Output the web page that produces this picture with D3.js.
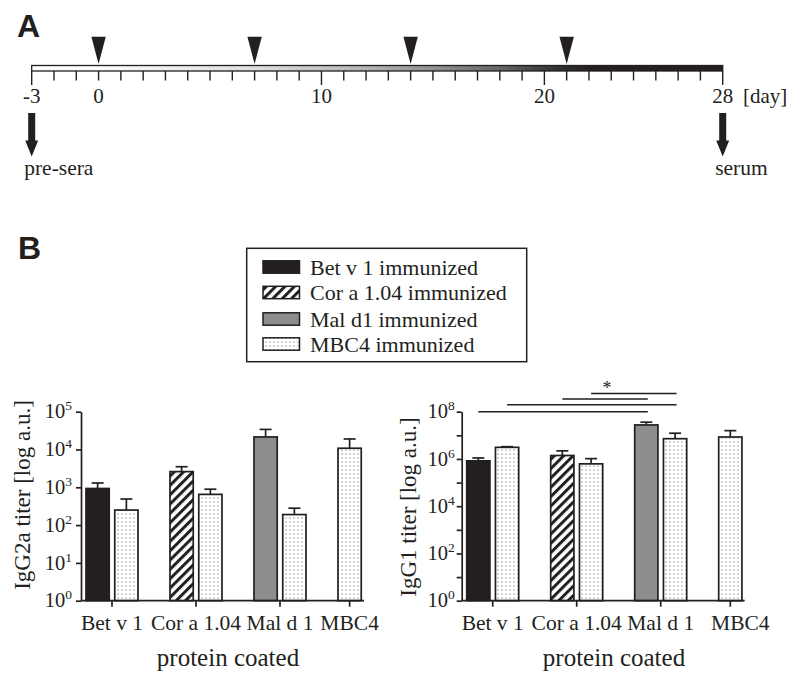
<!DOCTYPE html>
<html><head><meta charset="utf-8">
<script src="https://cdn.jsdelivr.net/npm/d3@7"></script>
<style>
body{margin:0;background:#fff}
svg{display:block}
text{font-family:"Liberation Serif","Times New Roman",serif;fill:#231f20}
.panel{font-family:"Liberation Sans",Arial,sans-serif;font-weight:bold}
</style>
</head><body><svg id="c" width="800" height="685"></svg>
<script>
// ---------- Panel A data ----------
const dayTicks = [-3,-2,-1,0,1,2,3,4,5,6,7,8,9,10,11,12,13,14,15,16,17,18,19,20,21,22,23,24,25,26,27,28];
const dayLabels = [-3, 0, 10, 20, 28];
const majorDays = [-3, 10, 20, 28];
const injectionDays = [0, 7, 14, 21];
const bleedDays = [-3, 28];
const bleedLabels = ["pre-sera", "serum"];

// ---------- Panel B data ----------
const categories = ["Bet v 1", "Cor a 1.04", "Mal d 1", "MBC4"];
const seriesNames = ["Bet v 1 immunized", "Cor a 1.04 immunized", "Mal d1 immunized", "MBC4 immunized"];

// IgG2a titers (mean) and upper error (SEM) per coated protein
const igg2aBetV1 = [930, null, null, null];
const igg2aCorA  = [null, 2600, null, null];
const igg2aMalD1 = [null, null, 21500, null];
const igg2aMBC4  = [250, 650, 190, 10800];
const igg2aBetV1Err = [370, null, null, null];
const igg2aCorAErr  = [null, 900, null, null];
const igg2aMalD1Err = [null, null, 12500, null];
const igg2aMBC4Err  = [240, 240, 90, 8200];

// IgG1 titers (mean) and upper error (SEM)
const igg1BetV1 = [830000, null, null, null];
const igg1CorA  = [null, 1400000, null, null];
const igg1MalD1 = [null, null, 27500000, null];
const igg1MBC4  = [3100000, 620000, 7200000, 8500000];
const igg1BetV1Err = [270000, null, null, null];
const igg1CorAErr  = [null, 800000, null, null];
const igg1MalD1Err = [null, null, 8500000, null];
const igg1MBC4Err  = [200000, 410000, 5100000, 7300000];

const igg2aTicks = [1, 10, 100, 1000, 10000, 100000];
const igg1Ticks = [1, 10, 100, 1000, 10000, 100000, 1000000, 10000000, 100000000];
const igg1LabeledExp = [0, 2, 4, 6, 8];

// significance bars: [category, series index] pairs
const igg1Sig = [
  [["Bet v 1", 0], ["Mal d 1", 2]],
  [["Bet v 1", 3], ["Mal d 1", 3]],
  [["Cor a 1.04", 1], ["Mal d 1", 2]],
  [["Cor a 1.04", 3], ["Mal d 1", 3]]
];

// ---------- styles ----------
const INK = "#231f20";
const fills = [INK, "url(#hatch)", "#8c8d8f", "url(#dots)"];

const svg = d3.select("#c");
svg.append("rect").attr("width",800).attr("height",685).attr("fill","#fff");
const defs = svg.append("defs");

// hatch pattern
const hp = defs.append("pattern").attr("id","hatch").attr("patternUnits","userSpaceOnUse")
  .attr("width",6.6).attr("height",6.6).attr("patternTransform","rotate(45)");
hp.append("rect").attr("width",6.6).attr("height",6.6).attr("fill","#fff");
hp.append("rect").attr("x",0).attr("width",3).attr("height",6.6).attr("fill",INK);
// dot pattern
const dp = defs.append("pattern").attr("id","dots").attr("patternUnits","userSpaceOnUse")
  .attr("width",4).attr("height",4);
dp.append("rect").attr("width",4).attr("height",4).attr("fill","#fff");
dp.append("rect").attr("x",1.5).attr("y",1.5).attr("width",1.1).attr("height",1.1).attr("fill","#6e6e6e");

// ---------- Panel A ----------
svg.append("text").attr("class","panel").attr("x",17).attr("y",36.5).attr("font-size",32).text("A");

const xd = d3.scaleLinear().domain([-3, 28]).range([31.7, 722.7]);
const grad = defs.append("linearGradient").attr("id","tgrad").attr("gradientUnits","userSpaceOnUse")
  .attr("x1", xd(-3)).attr("x2", xd(28)).attr("y1",0).attr("y2",0);
[[-3,"#ffffff"],[0,"#fbfbfb"],[7,"#dedede"],[12,"#b4b4b4"],[15,"#929292"],[18,"#666"],[20.5,"#333"],[22,INK],[28,INK]]
  .forEach(([d,c]) => grad.append("stop").attr("offset", (xd(d)-xd(-3))/(xd(28)-xd(-3))).attr("stop-color", c));

svg.append("rect").attr("x", xd(-3)).attr("y", 65.5).attr("width", xd(28)-xd(-3)).attr("height", 5.5)
  .attr("fill","url(#tgrad)").attr("stroke",INK).attr("stroke-width",1.3);

svg.append("g").selectAll("line").data(dayTicks).join("line")
  .attr("x1", d => xd(d)).attr("x2", d => xd(d))
  .attr("y1", 71).attr("y2", d => majorDays.includes(d) ? 85 : 80.5)
  .attr("stroke", INK).attr("stroke-width", 1.4);

svg.append("g").selectAll("text").data(dayLabels).join("text")
  .attr("x", d => xd(d)).attr("y", 103.3).attr("text-anchor","middle").attr("font-size",21)
  .text(d => d);
svg.append("text").attr("x", 743).attr("y", 103.3).attr("font-size",21).text("[day]");

svg.append("g").selectAll("path").data(injectionDays).join("path")
  .attr("d", d => d3.line()([[xd(d)-7.2,36.7],[xd(d)+7.2,36.7],[xd(d),64]]) + "Z")
  .attr("fill", INK);

svg.append("g").selectAll("path").data(bleedDays).join("path")
  .attr("d", d => { const x = xd(d); return d3.line()([[x-3.5,113],[x+3.5,113],[x+3.5,140.5],[x+6.5,140.5],[x,156.5],[x-6.5,140.5],[x-3.5,140.5]]) + "Z"; })
  .attr("fill", INK);
svg.append("g").selectAll("text").data(bleedDays).join("text")
  .attr("x", d => xd(d) - 7.5).attr("y", 174.5).attr("font-size",21.5)
  .text((d,i) => bleedLabels[i]);

// ---------- Panel B ----------
svg.append("text").attr("class","panel").attr("x",18).attr("y",259).attr("font-size",32).text("B");

// legend
const lg = svg.append("g");
lg.append("rect").attr("x",246.7).attr("y",248.3).attr("width",280).attr("height",113.4)
  .attr("fill","#fff").attr("stroke",INK).attr("stroke-width",1.5);
const legRows = [267, 292.5, 319, 344];
seriesNames.forEach((s,i) => {
  lg.append("rect").attr("x",263).attr("y",legRows[i]-6.2).attr("width",36.5).attr("height",12.4)
    .attr("fill", fills[i]).attr("stroke",INK).attr("stroke-width",1.5);
  lg.append("text").attr("x",310).attr("y",legRows[i]+7.8).attr("font-size",22).text(s);
});

function drawChart(opt) {
  const g = svg.append("g");
  const x0 = opt.x0, yBottom = 600.7, yTop = 411.7;
  const y = d3.scaleLog().domain([1, opt.max]).range([yBottom, yTop]);
  const xg = d3.scaleBand().domain(categories).range([x0 + 5, x0 + 5 + 84 * categories.length]).padding(0);
  const xs = d3.scaleBand().domain([0, 1]).range([0, 52]).paddingInner(10/52).paddingOuter(0);

  // collect bars
  const bars = [];
  const centers = {};
  categories.forEach((c, ci) => {
    const present = opt.series.map((s, si) => s[ci] != null ? si : null).filter(v => v != null);
    const xsPos = [];
    present.forEach((si, slot) => {
      const bx = xg(c) + xs(slot);
      bars.push({c, si, v: opt.series[si][ci], e: opt.errs[si][ci], x: bx, w: xs.bandwidth()});
      xsPos.push(bx + xs.bandwidth()/2);
    });
    centers[c] = d3.mean(xsPos);
  });
  const barPos = (c, si) => { const b = bars.find(b => b.c === c && b.si === si); return b.x + b.w/2; };

  // error bars
  const eg = g.append("g").attr("stroke", INK).attr("stroke-width", 1.7);
  bars.forEach(b => {
    const cx = b.x + b.w/2;
    eg.append("line").attr("x1",cx).attr("x2",cx).attr("y1",y(b.v)).attr("y2",y(b.v + b.e));
    eg.append("line").attr("x1",cx-6).attr("x2",cx+6).attr("y1",y(b.v + b.e)).attr("y2",y(b.v + b.e));
  });
  // bars
  g.append("g").selectAll("rect").data(bars).join("rect")
    .attr("x", b => b.x).attr("width", b => b.w)
    .attr("y", b => y(b.v)).attr("height", b => yBottom - y(b.v))
    .attr("fill", b => fills[b.si]).attr("stroke", INK).attr("stroke-width", 1.7);

  // y axis
  const ya = g.append("g").attr("transform", `translate(${x0},0)`)
    .call(d3.axisLeft(y).tickValues(opt.ticks).tickSize(5).tickSizeOuter(0).tickFormat(""));
  ya.selectAll("path,line").attr("stroke", INK).attr("stroke-width", 1.7);
  const labeled = opt.ticks.filter(t => opt.labeled.includes(Math.round(Math.log10(t))));
  labeled.forEach(t => {
    const tx = g.append("text").attr("x", x0 - opt.labelGap).attr("y", y(t) + 6.6)
      .attr("text-anchor","end").attr("font-size",20.5);
    tx.append("tspan").text("10");
    tx.append("tspan").attr("font-size",13.5).attr("dy",-8).text(Math.round(Math.log10(t)));
  });

  // x axis
  const xEnd = xg(categories[categories.length-1]) + 26;
  g.append("line").attr("x1", x0).attr("x2", xEnd).attr("y1", yBottom).attr("y2", yBottom)
    .attr("stroke", INK).attr("stroke-width", 1.7);
  categories.forEach((c, i) => {
    g.append("line").attr("x1", centers[c]).attr("x2", centers[c]).attr("y1", yBottom).attr("y2", yBottom + 6)
      .attr("stroke", INK).attr("stroke-width", 1.7);
    g.append("text").attr("x", centers[c] + (opt.labelDx[i] || 0)).attr("y", 630).attr("text-anchor","middle")
      .attr("font-size",21.5).text(c);
  });
  g.append("text").attr("x", opt.titleX).attr("y", 666).attr("text-anchor","middle").attr("font-size",25)
    .text("protein coated");
  g.append("text").attr("transform", `translate(${opt.yTitleX},${opt.yTitleY}) rotate(-90)`)
    .attr("text-anchor","middle").attr("font-size",23).text(opt.yTitle);

  if (opt.sig) {
    const levels = [411.7, 404.7, 399, 393.5];
    opt.sig.forEach((p, i) => {
      g.append("line").attr("x1", barPos(p[0][0], p[0][1])).attr("x2", barPos(p[1][0], p[1][1]) + 1.5)
        .attr("y1", levels[i]).attr("y2", levels[i]).attr("stroke", INK).attr("stroke-width", 1.6);
    });
    g.append("text").attr("x", barPos("Cor a 1.04", 3) + 16).attr("y", 394).attr("text-anchor","middle")
      .attr("font-size",18).text("*");
  }
}

drawChart({
  x0: 81, max: 1e5, ticks: igg2aTicks, labeled: [0,1,2,3,4,5], labelGap: 9,
  series: [igg2aBetV1, igg2aCorA, igg2aMalD1, igg2aMBC4],
  errs: [igg2aBetV1Err, igg2aCorAErr, igg2aMalD1Err, igg2aMBC4Err],
  labelDx: [0,0,0,0], titleX: 228, yTitle: "IgG2a titer [log a.u.]", yTitleX: 30, yTitleY: 495
});
drawChart({
  x0: 461.7, max: 1e8, ticks: igg1Ticks, labeled: igg1LabeledExp, labelGap: 7,
  series: [igg1BetV1, igg1CorA, igg1MalD1, igg1MBC4],
  errs: [igg1BetV1Err, igg1CorAErr, igg1MalD1Err, igg1MBC4Err],
  labelDx: [0,0,0,10], titleX: 614, yTitle: "IgG1 titer [log a.u.]", yTitleX: 415.5, yTitleY: 507,
  sig: igg1Sig
});
</script>
</body></html>
